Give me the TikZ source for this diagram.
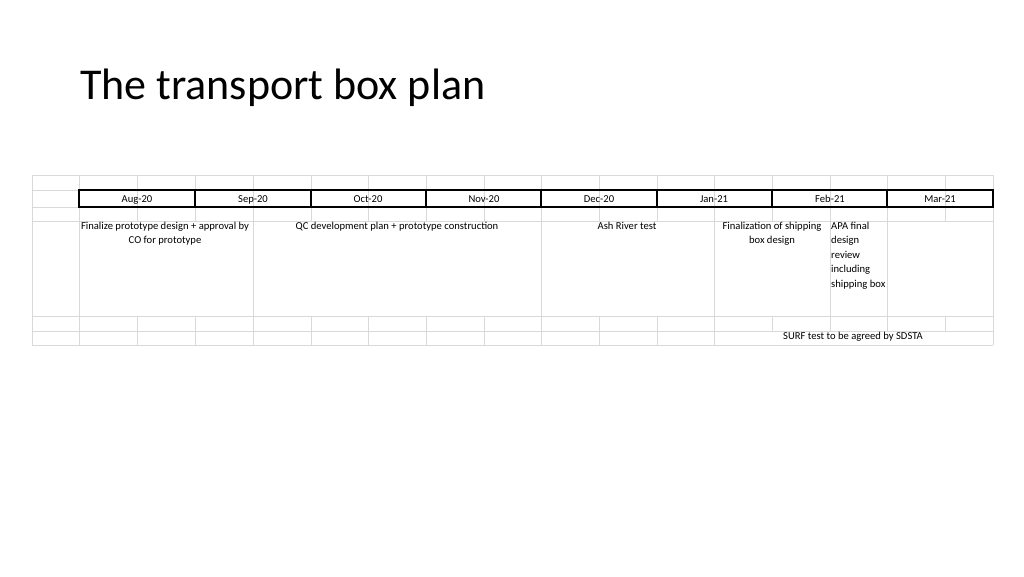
\documentclass[tikz,border=0pt]{standalone}
\usepackage{fontspec}
\setmainfont{Carlito}
\begin{document}
\begin{tikzpicture}[x=1pt,y=-1pt,
  grid/.style={draw=black!15,line width=0.8pt},
  thick grid/.style={draw=black,line width=1.6pt},
  cell/.style={font=\fontsize{10.6}{14.4}\selectfont,inner sep=0pt,anchor=north,align=center},
  lcell/.style={font=\fontsize{10.6}{14.4}\selectfont,inner sep=0pt,anchor=north west,align=left}]
\useasboundingbox (0,0) rectangle (1024,576);
\node[anchor=base west,inner sep=0pt,font=\fontsize{44}{48}\selectfont] (title) at (80,99) {The transport box plan};
% horizontal lines
\foreach \y in {175,190,207,221,316,331,345} \draw[grid] (32,\y) -- (993,\y);
\draw[grid] (32,175) -- (32,345);
\foreach \xx in {79,137,195,253,311,368,426,484,541,599,657,714,772,830,887,945,993} {
  \draw[grid] (\xx,175) -- (\xx,221);
  \draw[grid] (\xx,316) -- (\xx,331);
}
\foreach \xx in {79,137,195,253,311,368,426,484,541,599,657,714,993}
  \draw[grid] (\xx,331) -- (\xx,345);
\foreach \xx in {79,253,541,714,830,887,993} \draw[grid] (\xx,221) -- (\xx,316);
% month header
\draw[thick grid] (79,190) rectangle (993,207);
\foreach \xx in {195,311,426,541,657,772,887}
  \draw[thick grid] (\xx,190) -- (\xx,207);
\foreach \m/\xx/\n in {Aug-20/137/a,Sep-20/253/b,Oct-20/368/c,Nov-20/484/d,Dec-20/599/e,Jan-21/714/f,Feb-21/830/g,Mar-21/940/h}
  \node[font=\fontsize{10.6}{12}\selectfont,inner sep=0pt,anchor=base] (m\n) at (\xx,202) {\m};
\node[cell] (t1) at (165,222) {Finalize prototype design + approval by\\CO for prototype};
\node[cell] (t2) at (397,222) {QC development plan + prototype construction};
\node[cell] (t3) at (627,222) {Ash River test};
\node[cell] (t4) at (772,222) {Finalization of shipping\\box design};
\node[lcell] (t5) at (831,222) {APA final\\design\\review\\including\\shipping box};
\node[cell] (t6) at (853,332) {SURF test to be agreed by SDSTA};
\end{tikzpicture}
\end{document}
